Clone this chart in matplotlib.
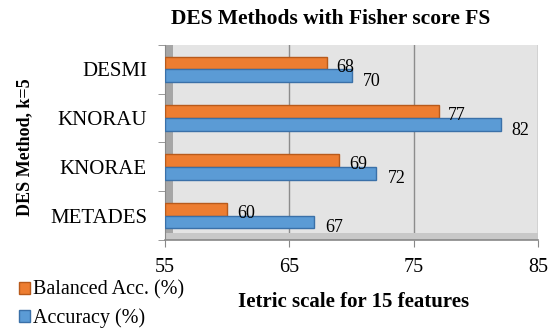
import matplotlib
matplotlib.use("Agg")
import matplotlib.pyplot as plt
import numpy as np
from matplotlib.patches import Rectangle

plt.rcParams['font.family'] = ['Liberation Serif', 'DejaVu Serif']

categories = ["METADES", "KNORAE", "KNORAU", "DESMI"]
balanced_acc = [60, 69, 77, 68]
accuracy = [67, 72, 82, 70]
xticks = [55, 65, 75, 85]

fig = plt.figure(figsize=(5.51, 3.31), dpi=100)
ax = fig.add_axes([0.2995, 0.275, 0.677, 0.589])
ax.set_facecolor('#E4E4E4')

y = np.arange(len(categories))
h = 0.26
base = 55
orange = '#ED7D31'
blue = '#5B9BD5'
ax.barh(y + h/2, np.array(balanced_acc) - base, left=base, height=h, color=orange,
        edgecolor='#B85A1B', linewidth=1.0, zorder=3, label='Balanced Acc. (%)')
ax.barh(y - h/2, np.array(accuracy) - base, left=base, height=h, color=blue,
        edgecolor='#3A70A8', linewidth=1.0, zorder=3, label='Accuracy (%)')

for yi, v in zip(y, balanced_acc):
    ax.annotate(f"{v}", (v, yi + h/2), xytext=(7, -3), textcoords='offset points',
                ha='left', va='center', fontsize=13, color='black', zorder=4)
for yi, v in zip(y, accuracy):
    ax.annotate(f"{v}", (v, yi - h/2), xytext=(8, -4), textcoords='offset points',
                ha='left', va='center', fontsize=13, color='black', zorder=4)

ax.set_xlim(55, 85)
ax.set_ylim(-0.5, len(categories) - 0.5)
ax.set_xticks(xticks)
ax.set_xticklabels([str(t) for t in xticks], fontsize=14.5)
ax.set_yticks(y)
ax.set_yticklabels(categories, fontsize=15)
ax.tick_params(axis='y', length=0, pad=13)
ax.set_yticks(np.arange(-0.5, len(categories), 1), minor=True)
ax.tick_params(axis='y', which='minor', length=5, color='#888888')
ax.tick_params(axis='x', length=5, color='#888888', pad=8)

ax.grid(axis='x', color='#8C8C8C', linewidth=1.0, zorder=1)
ax.set_axisbelow(True)

# left wall and floor (3D impression)
ax.add_patch(Rectangle((0, 0), 0.022, 1, transform=ax.transAxes,
                       facecolor='#A6A6A6', edgecolor='none', zorder=2))
ax.add_patch(Rectangle((0, 0), 1, 0.035, transform=ax.transAxes,
                       facecolor='#C8C8C8', edgecolor='none', zorder=2))

for s in ['top', 'right']:
    ax.spines[s].set_visible(False)
ax.spines['left'].set_color('#888888')
ax.spines['bottom'].set_color('#888888')
ax.spines['bottom'].set_linewidth(1.2)

fig.text(0.60, 0.942, "DES Methods with Fisher score FS", ha='center', va='center',
         fontsize=15.5, fontweight='bold')
fig.text(0.642, 0.089, "Ietric scale for 15 features", ha='center', va='center',
         fontsize=15, fontweight='bold')
fig.text(0.045, 0.556, "DES Method, k=5", ha='center', va='center', rotation=90,
         fontsize=13, fontweight='bold')

handles, labels = ax.get_legend_handles_labels()
leg = fig.legend(handles, labels, loc='lower left', bbox_to_anchor=(0.005, -0.04),
                 frameon=False, fontsize=14.5, handlelength=0.55, handleheight=0.55,
                 handletextpad=0.15, labelspacing=0.42, borderpad=0.3)

fig.savefig("out.png", dpi=100)
